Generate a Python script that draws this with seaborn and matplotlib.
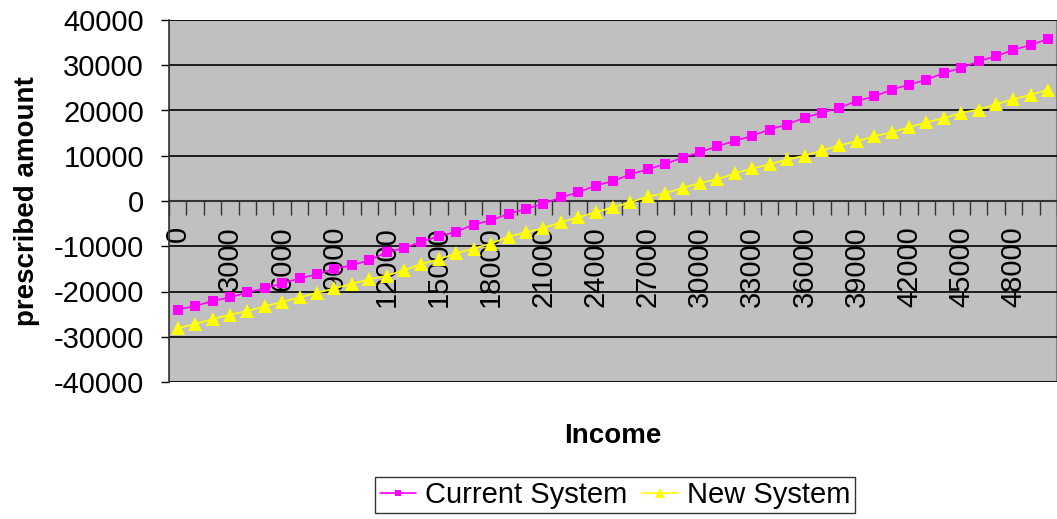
import numpy as np
import pandas as pd
import matplotlib
matplotlib.use("Agg")
import matplotlib.pyplot as plt
from matplotlib.patches import Rectangle
from matplotlib.ticker import FixedLocator
import seaborn as sns

# income categories, 0 .. 50000 in steps of 1000
income = list(range(0, 51000, 1000))

# values
current_system = [
    -24000, -23200, -22100, -21300, -20200, -19300, -18200, -17100, -16200, -15000,
    -14200, -13100, -11300, -10400, -9000, -7800, -6800, -5200, -4300, -2800,
    -1800, -600, 800, 1900, 3400, 4400, 5900, 7000, 8200, 9600,
    10800, 12100, 13300, 14400, 15800, 16900, 18400, 19500, 20600, 22100,
    23100, 24600, 25700, 26800, 28300, 29400, 30900, 32000, 33400, 34500,
    35800,
]
new_system = [
    -28100, -27200, -26100, -25100, -24300, -23300, -22300, -21300, -20300, -19300,
    -18300, -17300, -16500, -15300, -13900, -12900, -11500, -10500, -9400, -7900,
    -6900, -6000, -4700, -3600, -2500, -1400, -300, 1000, 1700, 2900,
    4000, 4800, 6100, 7200, 8100, 9200, 10000, 11200, 12300, 13200,
    14300, 15200, 16300, 17400, 18300, 19500, 20200, 21400, 22500, 23500,
    24600,
]
series_names = ["Current System", "New System"]
series_colors = ["#FF00FF", "#FFFF00"]
series_markers = ["s", "^"]
y_ticks = list(range(-40000, 40001, 10000))
x_label_values = list(range(0, 49000, 3000))

sns.set_style("white")
plt.rcParams["font.family"] = ["Liberation Sans", "DejaVu Sans"]
plt.rcParams.update({"text.color": "black", "axes.labelcolor": "black",
                     "xtick.color": "black", "ytick.color": "black"})

fig = plt.figure(figsize=(10.57, 5.19), dpi=100)
ax = fig.add_axes([169 / 1057, 1 - 382 / 519, 1 - 169 / 1057, 362 / 519])
ax.set_facecolor("#C0C0C0")

# one call per series so each marker gets its own size
for name, values, color, marker, ms in zip(series_names, [current_system, new_system],
                                           series_colors, series_markers, [7, 9.5]):
    sns.lineplot(x=income, y=values, color=color, marker=marker, markersize=ms,
                 markeredgewidth=0, linewidth=1.2, label=name, ax=ax, zorder=3)

ax.set_xlim(income[0] - 500, income[-1] + 500)
ax.set_ylim(y_ticks[0], y_ticks[-1])

# horizontal gridlines
ax.set_yticks(y_ticks)
ax.set_yticklabels([str(v) for v in y_ticks], fontsize=21)
ax.yaxis.grid(True, color="black", linewidth=1.2)
ax.xaxis.grid(False)
ax.tick_params(axis="y", which="major", direction="out", length=6, width=1,
               color="black", pad=12, left=True)

# category axis sitting on zero
for s in ["top", "right"]:
    ax.spines[s].set_visible(False)
ax.spines["bottom"].set_position(("data", 0))
ax.spines["bottom"].set_color("#333333")
ax.spines["bottom"].set_linewidth(1.5)
ax.spines["left"].set_color("#333333")
ax.spines["left"].set_linewidth(1.2)
ax.add_patch(Rectangle((0, 0), 1, 1, transform=ax.transAxes, fill=False,
                       edgecolor="#808080", linewidth=1.5, zorder=0.5))

ax.set_xticks(x_label_values)
ax.set_xticklabels([str(v) for v in x_label_values], rotation=90,
                   va="top", ha="center", fontsize=21)
ax.xaxis.set_minor_locator(FixedLocator([v - 500 for v in income] + [income[-1] + 500]))
ax.tick_params(axis="x", which="major", length=0, pad=18, bottom=True)
ax.tick_params(axis="x", which="minor", direction="out", length=10, width=1,
               color="#333333", bottom=True)

ax.set_xlabel("Income", fontsize=20, fontweight="bold")
ax.xaxis.set_label_coords(0.5, -0.112)
ax.set_ylabel("prescribed amount", fontsize=20, fontweight="bold")
ax.yaxis.set_label_coords(-0.145, 0.5)

handles, labels = ax.get_legend_handles_labels()
ax.get_legend().remove()
leg = fig.legend(handles, labels, loc="center", bbox_to_anchor=(615 / 1057, 1 - 495 / 519),
                 ncol=2, fontsize=21, frameon=True, fancybox=False,
                 handlelength=1.25, handletextpad=0.3, columnspacing=0.5,
                 borderpad=0.15, borderaxespad=0, markerscale=0.7)
leg.get_frame().set_edgecolor("black")
leg.get_frame().set_linewidth(1)

fig.savefig("out.png", dpi=100)
